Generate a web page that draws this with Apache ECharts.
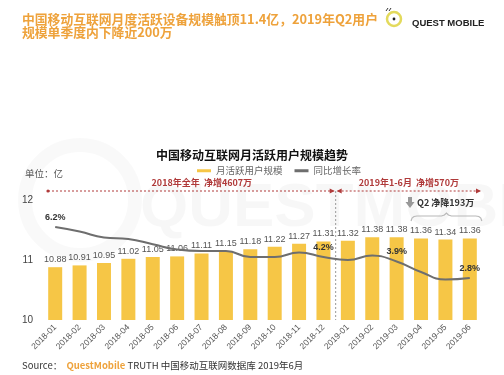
<!DOCTYPE html>
<html><head><meta charset="utf-8">
<script src="https://cdn.jsdelivr.net/npm/echarts@6/dist/echarts.min.js"></script>
<style>html,body{margin:0;padding:0;background:#fff}#c{width:504px;height:375px}</style>
</head><body><div id="c"></div>
<script>
const categories = ['2018-01','2018-02','2018-03','2018-04','2018-05','2018-06','2018-07','2018-08','2018-09','2018-10','2018-11','2018-12','2019-01','2019-02','2019-03','2019-04','2019-05','2019-06'];
const mauValues = [10.88,10.91,10.95,11.02,11.05,11.06,11.11,11.15,11.18,11.22,11.27,11.31,11.32,11.38,11.38,11.36,11.34,11.36];
const growthValues = [6.2,5.9,5.5,5.4,5.05,4.7,4.6,4.6,4.2,4.2,4.5,4.2,4.0,4.3,3.9,3.2,2.7,2.8];
const growthLabelIdx = [0,11,14,17];
const yMin = 10, yMax = 12, yStep = 1;

const FONT = '"Liberation Sans","Noto Sans CJK SC",sans-serif';
const CJK = '"Noto Sans CJK SC","Liberation Sans",sans-serif';
const chart = echarts.init(document.getElementById('c'));

const growthData = growthValues.map((v, i) => growthLabelIdx.includes(i)
  ? {value: v, label: {show: true}} : {value: v});

const option = {
  backgroundColor: '#fff',
  animation: false,
  title: [
    {text: '中国移动互联网月度活跃设备规模触顶11.4亿，2019年Q2用户\n规模单季度内下降近200万', left: 17, top: 8,
     textStyle: {color: '#EEA23B', fontSize: 12.8, fontWeight: 'bold', fontFamily: CJK, lineHeight: 13}},
    {text: '中国移动互联网月活跃用户规模趋势', left: 'center', top: 144,
     textStyle: {color: '#111', fontSize: 12, fontWeight: 'bold', fontFamily: CJK}},
    {text: '单位：亿', left: 20, top: 164, textStyle: {color: '#555', fontSize: 9.5, fontWeight: 'normal', fontFamily: CJK}},
    {text: '{a|Source：  }{b|QuestMobile}{c| TRUTH 中国移动互联网数据库 2019年6月}', left: 17, top: 356,
     textStyle: {fontWeight: 'normal', rich: {
       a: {color: '#333', fontSize: 9.5, fontWeight: 'normal', fontFamily: CJK},
       b: {color: '#EEA23B', fontSize: 9.5, fontWeight: 'bold', fontFamily: CJK},
       c: {color: '#333', fontSize: 9.5, fontWeight: 'normal', fontFamily: CJK}}}}
  ],
  legend: {
    top: 161, left: 192, itemWidth: 14, itemHeight: 3, itemGap: 12,
    textStyle: {color: '#666', fontSize: 9.5, fontFamily: CJK},
    data: [{name: '月活跃用户规模', icon: 'rect'}, {name: '同比增长率', icon: 'rect'}]
  },
  grid: {left: 43, right: 22, top: 200, bottom: 55},
  xAxis: {
    type: 'category', data: categories,
    axisLine: {show: false}, axisTick: {show: false},
    axisLabel: {rotate: 45, fontSize: 8.5, color: '#555', margin: 6, interval: 0, fontFamily: FONT}
  },
  yAxis: [
    {type: 'value', min: yMin, max: yMax, interval: yStep,
     axisLine: {show: false}, axisTick: {show: false}, splitLine: {show: false},
     axisLabel: {fontSize: 10, color: '#444', margin: 10, fontFamily: FONT}},
    {type: 'value', min: 0, max: 8, show: false, splitLine: {show: false}}
  ],
  series: [
    {name: '月活跃用户规模', type: 'bar', data: mauValues, barWidth: 14,
     itemStyle: {color: '#F6C646'},
     label: {show: true, position: 'top', distance: 3, fontSize: 9, color: '#555', fontFamily: FONT,
       formatter: p => p.value.toFixed(2)}},
    {name: '同比增长率', type: 'line', yAxisIndex: 1, data: growthData, smooth: 0.5,
     symbol: 'circle', symbolSize: 0, showSymbol: true,
     lineStyle: {color: '#6e6e6e', width: 2}, itemStyle: {color: '#6e6e6e'},
     label: {show: false, position: 'top', distance: 5, fontSize: 9, fontWeight: 'bold', color: '#333',
       fontFamily: FONT, formatter: p => p.value + '%'}}
  ]
};
chart.setOption(option);

const px = (i, v) => chart.convertToPixel({xAxisIndex: 0, yAxisIndex: 0}, [i, v]);
const divX = (px(11, yMax)[0] + px(12, yMax)[0]) / 2;
const topY = px(0, yMax)[1] - 9;
const botY = px(0, yMin)[1];
const leftX = 48, rightX = 480;
const red = '#B03A3A';
const bx0 = px(15, yMax)[0] - 10, bx1 = px(17, yMax)[0] + 12, bxm = (bx0 + bx1) / 2;
const by = 216;

const g = [
  // watermark
  {type: 'text', x: 140, y: 178, silent: true, z: -10,
   style: {text: 'QUESTMOBILE', font: 'bold 62px "Liberation Sans"', fill: 'rgba(0,0,0,0.03)'}},
  {type: 'circle', shape: {cx: 80, cy: 200, r: 55}, silent: true, z: -10,
   style: {fill: 'none', stroke: 'rgba(0,0,0,0.025)', lineWidth: 14}},
  // logo
  {type: 'circle', shape: {cx: 394, cy: 19, r: 7}, style: {fill: 'none', stroke: '#E3DA5C', lineWidth: 2.5}},
  {type: 'circle', shape: {cx: 394, cy: 19, r: 1.4}, style: {fill: '#222'}},
  {type: 'line', shape: {x1: 386, y1: 11, x2: 388, y2: 8}, style: {stroke: '#333', lineWidth: 1}},
  {type: 'line', shape: {x1: 389, y1: 11, x2: 391, y2: 8}, style: {stroke: '#333', lineWidth: 1}},
  {type: 'text', x: 412, y: 23, style: {text: 'QUEST MOBILE', font: 'bold 9.5px "Liberation Sans"', fill: '#222', textVerticalAlign: 'middle'}},
  // top annotation lines
  {type: 'line', shape: {x1: leftX, y1: topY, x2: divX - 2, y2: topY}, style: {stroke: red, lineWidth: 1, lineDash: [2, 2]}},
  {type: 'line', shape: {x1: divX + 2, y1: topY, x2: rightX, y2: topY}, style: {stroke: red, lineWidth: 1, lineDash: [2, 2]}},
  {type: 'circle', shape: {cx: leftX, cy: topY, r: 1.6}, style: {fill: red}},
  {type: 'polygon', shape: {points: [[divX - 1, topY], [divX - 6, topY - 2.5], [divX - 6, topY + 2.5]]}, style: {fill: red}},
  {type: 'polygon', shape: {points: [[divX + 1, topY], [divX + 6, topY - 2.5], [divX + 6, topY + 2.5]]}, style: {fill: red}},
  {type: 'polygon', shape: {points: [[rightX + 1, topY], [rightX - 4, topY - 2.5], [rightX - 4, topY + 2.5]]}, style: {fill: red}},
  {type: 'line', shape: {x1: divX, y1: topY, x2: divX, y2: botY}, style: {stroke: '#9a9a9a', lineWidth: 1, lineDash: [2, 2]}},
  {type: 'text', x: (leftX + divX) / 2 + 10, y: 183, style: {text: '2018年全年  净增4607万', font: 'bold 9px "Noto Sans CJK SC"', fill: red, textAlign: 'center', textVerticalAlign: 'middle'}},
  {type: 'text', x: (divX + rightX) / 2 + 1, y: 183, style: {text: '2019年1-6月  净增570万', font: 'bold 9px "Noto Sans CJK SC"', fill: red, textAlign: 'center', textVerticalAlign: 'middle'}},
  // Q2 annotation
  {type: 'polygon', shape: {points: [[408, 197], [412, 197], [412, 202], [414.5, 202], [410, 208], [405.5, 202], [408, 202]]}, style: {fill: '#999'}},
  {type: 'text', x: 417, y: 203, style: {text: 'Q2 净降193万', font: 'bold 9px "Noto Sans CJK SC"', fill: '#333', textVerticalAlign: 'middle'}},
  {type: 'polyline', shape: {points: [
    [bx0, by + 5], [bx0 + 1, by + 2], [bx0 + 3, by + 0.5], [bx0 + 6, by],
    [bxm - 5, by], [bxm - 2, by - 1], [bxm, by - 3], [bxm + 2, by - 1], [bxm + 5, by],
    [bx1 - 6, by], [bx1 - 3, by + 0.5], [bx1 - 1, by + 2], [bx1, by + 5]]},
   style: {fill: 'none', stroke: '#b8b8b8', lineWidth: 1.2}}
];
chart.setOption({graphic: g});
</script>
</body></html>
